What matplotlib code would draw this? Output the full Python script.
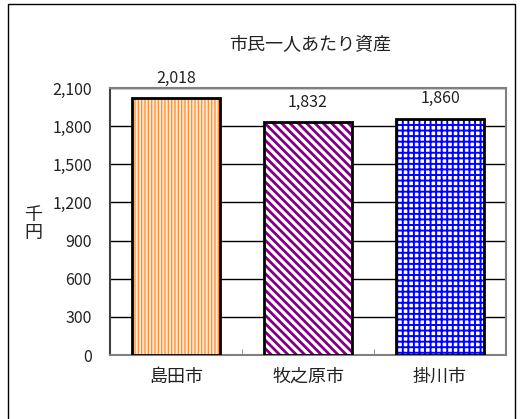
import matplotlib
matplotlib.use("Agg")
import matplotlib.pyplot as plt
from matplotlib.patches import Rectangle
from matplotlib.ticker import FuncFormatter, FixedLocator

plt.rcParams['font.family'] = ['Noto Sans CJK JP', 'DejaVu Sans']
plt.rcParams['hatch.linewidth'] = 1.5

title = "市民一人あたり資産"
cities = ["島田市", "牧之原市", "掛川市"]
assets = [2018, 1832, 1860]
y_ticks = [0, 300, 600, 900, 1200, 1500, 1800, 2100]
y_label = "千\n円"

fig = plt.figure(figsize=(5.2, 4.19), dpi=100)
W, H = 520, 419

# outer frame of the chart area
fig.patches.append(Rectangle((8 / W, -0.05), (515 - 8) / W, 1.05 - 4 / H,
                             transform=fig.transFigure, fill=False,
                             edgecolor='black', linewidth=1.0))

ax = fig.add_axes([110 / W, 1 - 355 / H, (506 - 110) / W, (355 - 88) / H])

styles = [
    dict(facecolor='#FFE9D2', hatch='|||||', hatch_color='#FF8C2A', hlw=0.9),
    dict(facecolor='white', hatch='\\\\\\\\', hatch_color='#800080', hlw=2.0),
    dict(facecolor='white', hatch='+++', hatch_color='#0000FF', hlw=1.4),
]

x = list(range(len(cities)))
bars = ax.bar(x, assets, width=0.667, zorder=3)
for b, st in zip(bars, styles):
    b.set_facecolor(st['facecolor'])
    b.set_hatch(st['hatch'])
    b.set_edgecolor(st['hatch_color'])
    b.set_linewidth(0)
    if hasattr(b, 'set_hatch_linewidth'):
        b.set_hatch_linewidth(st['hlw'])
    # black outline drawn separately
    ax.add_patch(Rectangle(b.get_xy(), b.get_width(), b.get_height(),
                           fill=False, edgecolor='black', linewidth=2.0, zorder=4))

for xi, v in zip(x, assets):
    ax.annotate(f"{v:,}", (xi, v), xytext=(0, 8), textcoords='offset points',
                ha='center', va='bottom', fontsize=11.5, color='#222222')

ax.set_xlim(-0.5, 2.5)
ax.set_ylim(0, 2100)
ax.set_yticks(y_ticks)
ax.yaxis.set_major_formatter(FuncFormatter(lambda v, p: f"{int(v):,}"))
ax.tick_params(axis='y', length=0, pad=13, labelsize=11.5, labelcolor='#222222')
ax.set_xticks(x)
ax.set_xticklabels(cities, fontsize=13, color='#222222')
ax.tick_params(axis='x', length=0, pad=9)
ax.xaxis.set_minor_locator(FixedLocator([0.5, 1.5]))
ax.tick_params(axis='x', which='minor', direction='in', length=4, color='#808080')

ax.grid(axis='y', color='black', linewidth=1.0, zorder=1)
ax.set_axisbelow(True)
for side in ['top', 'right', 'bottom']:
    ax.spines[side].set_color('#808080')
    ax.spines[side].set_linewidth(1.5)
ax.spines['left'].set_color('#404040')
ax.spines['left'].set_linewidth(1.5)

fig.text(310 / W, 1 - 45 / H, title, ha='center', va='center', fontsize=13, color='#222222')
fig.text(33 / W, 1 - 224 / H, y_label, ha='center', va='center', fontsize=13,
         color='#222222', linespacing=1.05)

fig.savefig("out.png", dpi=100)
